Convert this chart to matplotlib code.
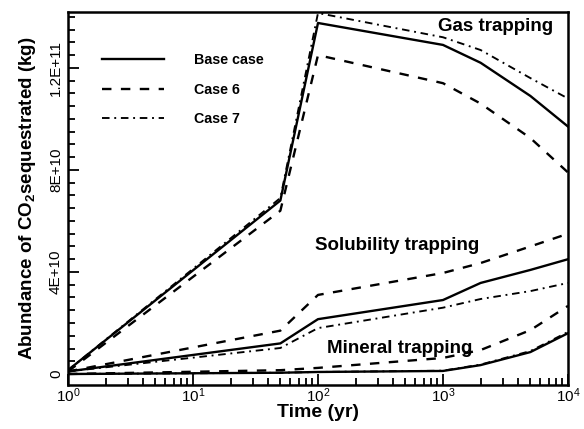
import numpy as np
import matplotlib.pyplot as plt
from matplotlib.ticker import MultipleLocator, FixedLocator, FixedFormatter, LogLocator, NullFormatter

plt.rcParams['font.family'] = ['Liberation Sans', 'DejaVu Sans']
plt.rcParams['mathtext.fontset'] = 'custom'
plt.rcParams['mathtext.rm'] = 'Liberation Sans'
plt.rcParams['mathtext.bf'] = 'Liberation Sans:bold'

# time points (yr)
t = [1, 50, 100, 1000, 2000, 5000, 10000]

# gas trapping (kg)
gas_base = [0.15e10, 6.8e10, 13.76e10, 12.9e10, 12.2e10, 10.9e10, 9.7e10]
gas_case6 = [0.1e10, 6.4e10, 12.5e10, 11.4e10, 10.6e10, 9.25e10, 7.9e10]
gas_case7 = [0.15e10, 6.9e10, 14.15e10, 13.2e10, 12.7e10, 11.6e10, 10.8e10]

# solubility trapping (kg)
sol_base = [0.1e10, 1.2e10, 2.15e10, 2.9e10, 3.57e10, 4.08e10, 4.5e10]
sol_case6 = [0.1e10, 1.7e10, 3.1e10, 3.96e10, 4.35e10, 5.0e10, 5.5e10]
sol_case7 = [0.1e10, 1.02e10, 1.8e10, 2.6e10, 2.94e10, 3.25e10, 3.57e10]

# mineral trapping (kg)
min_base = [0.0, 0.05e10, 0.08e10, 0.12e10, 0.35e10, 0.86e10, 1.6e10]
min_case6 = [0.0, 0.15e10, 0.24e10, 0.63e10, 0.94e10, 1.72e10, 2.67e10]
min_case7 = [0.0, 0.05e10, 0.08e10, 0.13e10, 0.37e10, 0.9e10, 1.65e10]

ytick_vals = [0, 4e10, 8e10, 1.2e11]
ytick_labels = ['0', '4E+10', '8E+10', '1.2E+11']

fig = plt.figure(figsize=(5.84, 4.29), dpi=100)
ax = fig.add_axes([0.1164, 0.1026, 0.8562, 0.8694])

lw = 1.7
solid = dict(color='black', lw=lw, linestyle='-')
dashed = dict(color='black', lw=lw, linestyle=(0, (4, 4)))
dashdot = dict(color='black', lw=lw * 0.8, linestyle=(0, (4, 2.5, 1, 2.5)))

ax.plot(t, gas_base, label='Base case', **solid)
ax.plot(t, gas_case6, label='Case 6', **dashed)
ax.plot(t, gas_case7, label='Case 7', **dashdot)
ax.plot(t, sol_base, **solid)
ax.plot(t, sol_case6, **dashed)
ax.plot(t, sol_case7, **dashdot)
ax.plot(t, min_base, **solid)
ax.plot(t, min_case6, **dashed)
ax.plot(t, min_case7, **dashdot)

ax.set_xscale('log')
ax.set_xlim(1, 1e4)
ax.set_ylim(-0.43e10, 14.19e10)

ax.yaxis.set_major_locator(FixedLocator(ytick_vals))
ax.yaxis.set_major_formatter(FixedFormatter(ytick_labels))
ax.yaxis.set_minor_locator(MultipleLocator(0.5e10))
ax.xaxis.set_minor_locator(LogLocator(base=10, subs=np.arange(2, 10)))
ax.xaxis.set_minor_formatter(NullFormatter())

ax.tick_params(which='both', direction='in', top=False, right=False, width=1.3)
ax.tick_params(which='major', length=8, labelsize=11)
ax.tick_params(which='minor', length=5)
ax.tick_params(axis='x', pad=1)
for lab in ax.get_yticklabels():
    lab.set_rotation(90)
    lab.set_va('center')

for sp in ax.spines.values():
    sp.set_linewidth(1.8)

ax.set_xlabel('Time (yr)', fontsize=14, fontweight='bold', labelpad=-1)
ax.set_ylabel(r'Abundance of CO$_\mathbf{2}$sequestrated (kg)', fontsize=13.5,
              fontweight='bold', labelpad=8)

ax.text(0.856, 0.96, 'Gas trapping', transform=ax.transAxes, ha='center',
        va='center', fontsize=13.5, fontweight='bold')
ax.text(0.658, 0.375, 'Solubility trapping', transform=ax.transAxes, ha='center',
        va='center', fontsize=13.5, fontweight='bold')
ax.text(0.664, 0.099, 'Mineral trapping', transform=ax.transAxes, ha='center',
        va='center', fontsize=13.5, fontweight='bold')

leg = ax.legend(loc='upper left', bbox_to_anchor=(0.043, 0.925), frameon=False,
                handlelength=4.3, handletextpad=2.1, labelspacing=1.1,
                prop={'size': 10.3, 'weight': 'bold'})

fig.savefig('out.png', dpi=100)
